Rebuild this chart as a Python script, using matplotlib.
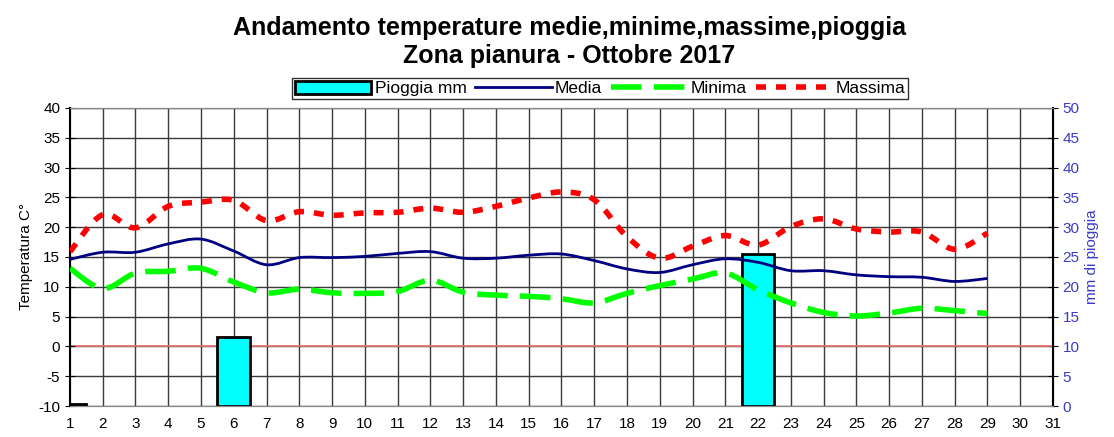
import numpy as np
import matplotlib
matplotlib.use("Agg")
import matplotlib.pyplot as plt
from matplotlib.path import Path
from matplotlib.patches import PathPatch, Patch
from matplotlib.lines import Line2D

plt.rcParams['font.family'] = ['Liberation Sans', 'DejaVu Sans']
plt.rcParams['axes.unicode_minus'] = False

# dati
giorni = list(range(1, 30))
media = [14.6, 15.8, 15.8, 17.2, 18.0, 16.0, 13.7, 14.9, 14.9, 15.1, 15.6, 15.9, 14.8, 14.8, 15.3,
         15.5, 14.4, 13.0, 12.4, 13.7, 14.7, 14.1, 12.7, 12.7, 12.0, 11.7, 11.6, 10.9, 11.4]
minima = [13.1, 9.7, 12.3, 12.6, 13.1, 10.8, 9.0, 9.6, 9.0, 8.9, 9.2, 11.1, 9.1, 8.6, 8.4,
          8.0, 7.3, 8.9, 10.2, 11.3, 12.3, 9.5, 7.3, 5.7, 5.1, 5.6, 6.4, 6.0, 5.5]
massima = [15.9, 22.1, 19.9, 23.5, 24.2, 24.5, 21.1, 22.6, 22.0, 22.4, 22.5, 23.2, 22.5, 23.5, 24.9,
           25.9, 24.6, 18.4, 14.8, 16.8, 18.6, 17.0, 20.1, 21.4, 19.7, 19.2, 19.2, 16.3, 19.0]
giorni_pioggia = [1, 6, 22]
pioggia = [0.4, 11.5, 25.5]

VERDE_DASH = (0, (5.5, 2.2))
ROSSO_DOT = (0, (1.8, 1.8))


def smooth_path(x, y):
    # curva smussata tipo Excel (Catmull-Rom -> Bezier)
    pts = np.column_stack([x, y]).astype(float)
    verts = [pts[0]]
    codes = [Path.MOVETO]
    n = len(pts)
    for i in range(n - 1):
        p0 = pts[i - 1] if i > 0 else pts[i]
        p1 = pts[i]
        p2 = pts[i + 1]
        p3 = pts[i + 2] if i + 2 < n else pts[i + 1]
        c1 = p1 + (p2 - p0) / 6.0
        c2 = p2 - (p3 - p1) / 6.0
        verts += [c1, c2, p2]
        codes += [Path.CURVE4] * 3
    return Path(verts, codes)


fig = plt.figure(figsize=(11.14, 4.37), dpi=100)
ax = fig.add_axes([0.0628, 0.0709, 0.8824, 0.682])
ax2 = ax.twinx()

ax.set_xlim(1, 31)
ax.set_ylim(-10, 40)
ax2.set_ylim(0, 50)

ax.set_xticks(range(1, 32))
ax.set_yticks(range(-10, 41, 5))
ax2.set_yticks(range(0, 51, 5))

# asse destro sotto: griglia, linea dello zero e barre; asse sinistro sopra: linee
ax2.set_zorder(ax.get_zorder() - 1)
ax.patch.set_visible(False)
ax2.patch.set_visible(True)
ax2.patch.set_facecolor('white')
ax2.grid(True, axis='y', color='#3a3a3a', linewidth=1)
ax2.set_axisbelow(True)
for g in ax.get_xticks()[1:-1]:
    ax2.axvline(g, color='#3a3a3a', linewidth=1, zorder=0.5)
ax2.axhline(10, color='#f07070', linewidth=1.2, zorder=1.5)

ax.tick_params(axis='x', length=0, labelsize=11, pad=8)
ax.tick_params(axis='y', length=7, labelsize=11, direction='inout')
ax2.tick_params(axis='y', length=7, labelsize=11, direction='inout', colors='black',
                labelcolor='#3a3ac8')

for s in ['top', 'bottom']:
    ax.spines[s].set_color('#888888')
    ax2.spines[s].set_color('#888888')
ax.spines['left'].set_color('black')
ax.spines['left'].set_linewidth(1.5)
ax2.spines['right'].set_color('black')
ax2.spines['right'].set_linewidth(1.5)

ax.set_ylabel('Temperatura C°', fontsize=11)
ax2.set_ylabel('mm di pioggia', fontsize=11, color='#3a3ac8')

# barre pioggia (asse destro)
ax2.bar(giorni_pioggia, pioggia, width=1.0, color='#00ffff', edgecolor='black',
        linewidth=2, zorder=2)

ax.add_patch(PathPatch(smooth_path(giorni, media), fill=False, edgecolor='#000080',
                       linewidth=2, zorder=4))
ax.add_patch(PathPatch(smooth_path(giorni, minima), fill=False, edgecolor='#00ff00',
                       linewidth=4, linestyle=VERDE_DASH, zorder=4))
ax.add_patch(PathPatch(smooth_path(giorni, massima), fill=False, edgecolor='#ff0000',
                       linewidth=4, linestyle=ROSSO_DOT, zorder=4))

fig.text(0.5112, 0.936, 'Andamento temperature medie,minime,massime,pioggia',
         fontsize=18, fontweight='bold', ha='center', va='center')
fig.text(0.5112, 0.872, 'Zona pianura - Ottobre 2017',
         fontsize=18, fontweight='bold', ha='center', va='center')

handles = [Patch(facecolor='#00ffff', edgecolor='black', linewidth=2),
           Line2D([], [], color='#000080', linewidth=2),
           Line2D([], [], color='#00ff00', linewidth=4, linestyle=VERDE_DASH),
           Line2D([], [], color='#ff0000', linewidth=4, linestyle=ROSSO_DOT)]
labels = ['Pioggia mm', 'Media', 'Minima', 'Massima']
leg = fig.legend(handles, labels, ncol=4, loc='center', bbox_to_anchor=(0.5386, 0.7975),
                 fontsize=12.5, frameon=True, fancybox=False, edgecolor='black',
                 handlelength=4.4, handletextpad=0.2, columnspacing=0.5,
                 borderpad=0.15, handleheight=0.8)
leg.get_frame().set_linewidth(1)

fig.savefig('out.png', dpi=100)
